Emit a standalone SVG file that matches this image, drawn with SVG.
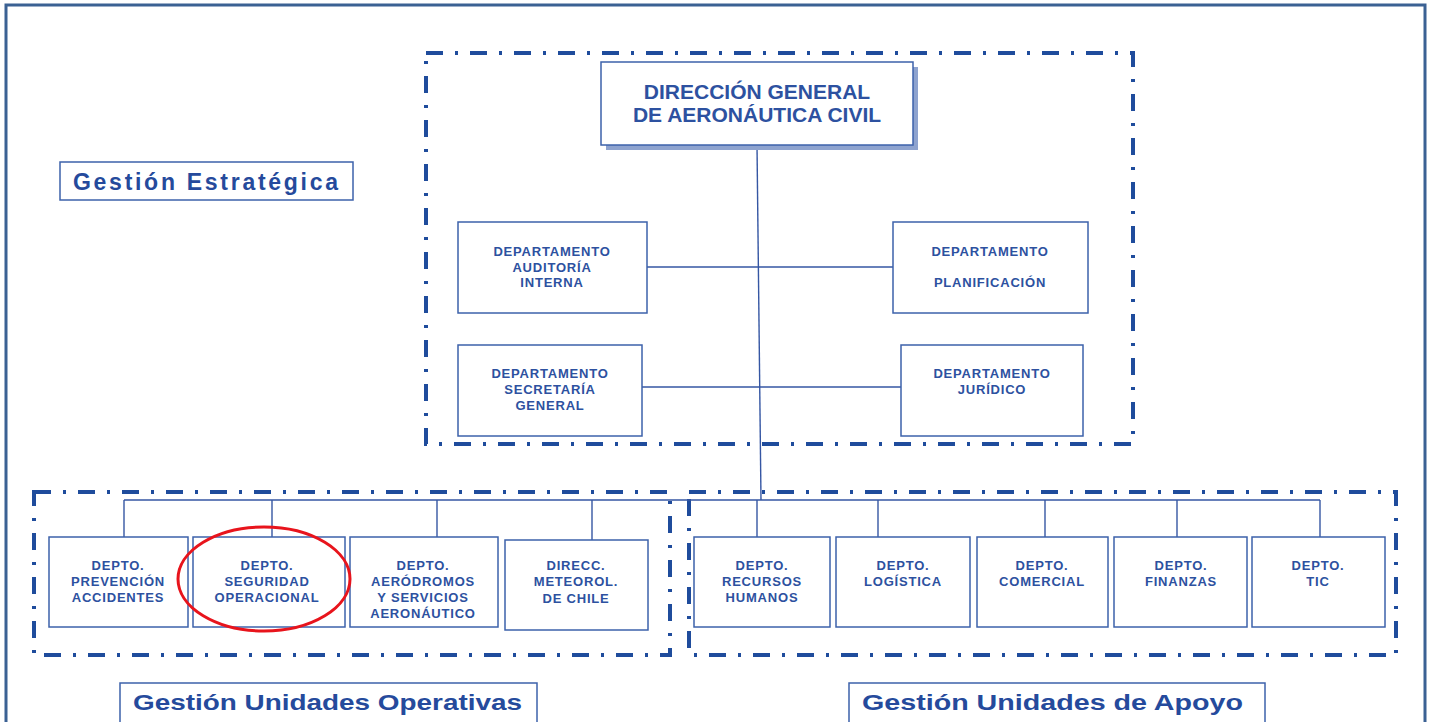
<svg xmlns="http://www.w3.org/2000/svg" width="1431" height="722" viewBox="0 0 1431 722">
<style>
.frame{fill:none;stroke:#3b6193;stroke-width:3}
.dd{fill:none;stroke:#1f4c9c;stroke-width:4;stroke-dasharray:17 12 3 12}
.box{fill:#fff;stroke:#3d62ab;stroke-width:1.5}
.lbl{fill:#fff;stroke:#3d62ab;stroke-width:1.5}
.con{fill:none;stroke:#3556a3;stroke-width:1.4}
.t{font-family:"Liberation Sans",Arial,sans-serif;font-weight:bold;fill:#2d51a0;text-anchor:middle}
.s{font-size:13px;letter-spacing:0.8px}
.big{font-size:21px}
.g{font-family:"Liberation Sans",Arial,sans-serif;font-weight:bold;fill:#254a9c;font-size:22px}
</style>
<rect width="1431" height="722" fill="#fff"/>
<rect class="frame" x="6" y="5" width="1419" height="740"/>

<g id="zones">
<rect class="dd" x="426" y="53" width="707" height="391"/>
<rect class="dd" x="34" y="492" width="636" height="163"/>
<rect class="dd" x="689" y="492" width="707" height="163"/>
</g>

<g id="connectors">
<line class="con" x1="757" y1="145" x2="761" y2="500"/>
<line class="con" x1="647" y1="267" x2="893" y2="267"/>
<line class="con" x1="642" y1="387" x2="901" y2="387"/>
<line class="con" x1="124" y1="500" x2="1320" y2="500"/>
<line class="con" x1="124" y1="500" x2="124" y2="537"/>
<line class="con" x1="272" y1="500" x2="272" y2="537"/>
<line class="con" x1="437" y1="500" x2="437" y2="537"/>
<line class="con" x1="592" y1="500" x2="592" y2="540"/>
<line class="con" x1="757" y1="500" x2="757" y2="537"/>
<line class="con" x1="878" y1="500" x2="878" y2="537"/>
<line class="con" x1="1045" y1="500" x2="1045" y2="537"/>
<line class="con" x1="1177" y1="500" x2="1177" y2="537"/>
<line class="con" x1="1320" y1="500" x2="1320" y2="537"/>
</g>

<g id="dgac">
<rect x="606" y="67" width="312" height="83" fill="#8ea3cf"/>
<rect class="box" x="601" y="62" width="312" height="83" stroke-width="2"/>
<text class="t big" x="757" y="99">DIRECCIÓN GENERAL</text>
<text class="t big" x="757" y="122">DE AERONÁUTICA CIVIL</text>
</g>

<g id="gestion-estrategica">
<rect class="lbl" x="60" y="162" width="293" height="38"/>
<text class="g" x="73" y="190" font-size="23" style="font-size:23px" textLength="265" lengthAdjust="spacing">Gestión  Estratégica</text>
</g>

<g id="auditoria">
<rect class="box" x="458" y="222" width="189" height="91"/>
<text class="t s" x="552" y="256">DEPARTAMENTO</text>
<text class="t s" x="552" y="272">AUDITORÍA</text>
<text class="t s" x="552" y="287">INTERNA</text>
</g>

<g id="planificacion">
<rect class="box" x="893" y="222" width="195" height="91"/>
<text class="t s" x="990" y="256">DEPARTAMENTO</text>
<text class="t s" x="990" y="287">PLANIFICACIÓN</text>
</g>

<g id="secretaria">
<rect class="box" x="458" y="345" width="184" height="91"/>
<text class="t s" x="550" y="378">DEPARTAMENTO</text>
<text class="t s" x="550" y="394">SECRETARÍA</text>
<text class="t s" x="550" y="410">GENERAL</text>
</g>

<g id="juridico">
<rect class="box" x="901" y="345" width="182" height="91"/>
<text class="t s" x="992" y="378">DEPARTAMENTO</text>
<text class="t s" x="992" y="394">JURÍDICO</text>
</g>

<g id="prevencion">
<rect class="box" x="49" y="537" width="139" height="90"/>
<text class="t s" x="118" y="570">DEPTO.</text>
<text class="t s" x="118" y="586">PREVENCIÓN</text>
<text class="t s" x="118" y="602">ACCIDENTES</text>
</g>

<g id="seguridad">
<rect class="box" x="193" y="537" width="152" height="90"/>
<text class="t s" x="267" y="570">DEPTO.</text>
<text class="t s" x="267" y="586">SEGURIDAD</text>
<text class="t s" x="267" y="602">OPERACIONAL</text>
</g>

<g id="aerodromos">
<rect class="box" x="350" y="537" width="148" height="90"/>
<text class="t s" x="423" y="570">DEPTO.</text>
<text class="t s" x="423" y="586">AERÓDROMOS</text>
<text class="t s" x="423" y="602">Y SERVICIOS</text>
<text class="t s" x="423" y="618">AERONÁUTICO</text>
</g>

<g id="meteorologia">
<rect class="box" x="505" y="540" width="143" height="90"/>
<text class="t s" x="576" y="570">DIRECC.</text>
<text class="t s" x="576" y="586">METEOROL.</text>
<text class="t s" x="576" y="603">DE CHILE</text>
</g>

<g id="rrhh">
<rect class="box" x="694" y="537" width="136" height="90"/>
<text class="t s" x="762" y="570">DEPTO.</text>
<text class="t s" x="762" y="586">RECURSOS</text>
<text class="t s" x="762" y="602">HUMANOS</text>
</g>

<g id="logistica">
<rect class="box" x="836" y="537" width="134" height="90"/>
<text class="t s" x="903" y="570">DEPTO.</text>
<text class="t s" x="903" y="586">LOGÍSTICA</text>
</g>

<g id="comercial">
<rect class="box" x="977" y="537" width="131" height="90"/>
<text class="t s" x="1042" y="570">DEPTO.</text>
<text class="t s" x="1042" y="586">COMERCIAL</text>
</g>

<g id="finanzas">
<rect class="box" x="1114" y="537" width="133" height="90"/>
<text class="t s" x="1181" y="570">DEPTO.</text>
<text class="t s" x="1181" y="586">FINANZAS</text>
</g>

<g id="tic">
<rect class="box" x="1252" y="537" width="133" height="90"/>
<text class="t s" x="1318" y="570">DEPTO.</text>
<text class="t s" x="1318" y="586">TIC</text>
</g>

<g id="highlight">
<ellipse cx="264" cy="579" rx="86" ry="52" fill="none" stroke="#e8141c" stroke-width="3"/>
</g>

<g id="gestion-operativas">
<rect class="lbl" x="120" y="683" width="417" height="40"/>
<text class="g" x="133" y="710" textLength="389" lengthAdjust="spacingAndGlyphs">Gestión  Unidades Operativas</text>
</g>

<g id="gestion-apoyo">
<rect class="lbl" x="849" y="683" width="416" height="40"/>
<text class="g" x="862" y="710" textLength="381" lengthAdjust="spacingAndGlyphs">Gestión  Unidades  de Apoyo</text>
</g>
</svg>
